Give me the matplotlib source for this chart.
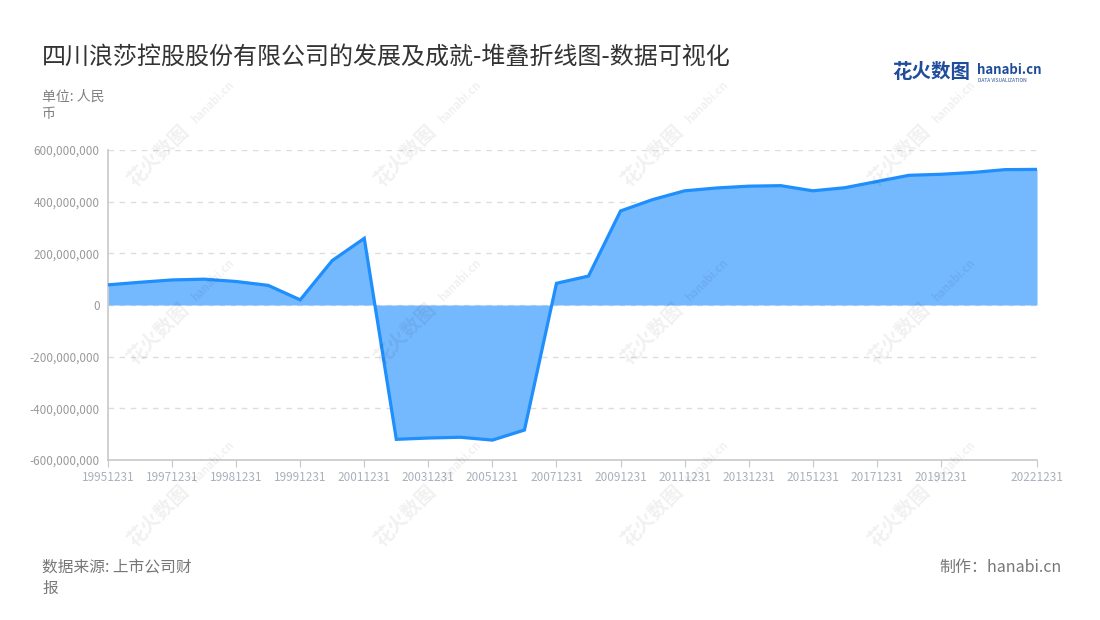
import matplotlib.pyplot as plt
import numpy as np

plt.rcParams['font.family'] = ['Noto Sans CJK SC', 'DejaVu Sans']

# -----------------------------
# Datos
# -----------------------------
fechas = ["19951231", "19961231", "19971231", "19980630", "19981231", "19990630",
          "19991231", "20001231", "20011231", "20021231", "20031231", "20041231",
          "20051231", "20061231", "20071231", "20081231", "20091231", "20101231",
          "20111231", "20121231", "20131231", "20141231", "20151231", "20161231",
          "20171231", "20181231", "20191231", "20201231", "20211231", "20221231"]
valores = [78e6, 88e6, 97e6, 100e6, 91e6, 76e6,
           20e6, 172e6, 258e6, -520e6, -515e6, -512e6,
           -523e6, -484e6, 84e6, 112e6, 364e6, 408e6,
           442e6, 453e6, 460e6, 462e6, 442e6, 454e6,
           478e6, 502e6, 506e6, 513e6, 524e6, 525e6]
etiquetas_idx = [0, 2, 4, 6, 8, 10, 12, 14, 16, 18, 20, 22, 24, 26, 29]
y_ticks = [-600e6, -400e6, -200e6, 0, 200e6, 400e6, 600e6]

titulo = "四川浪莎控股股份有限公司的发展及成就-堆叠折线图-数据可视化"

# -----------------------------
# Figura
# -----------------------------
fig = plt.figure(figsize=(11, 6.2), dpi=100)
ax = fig.add_axes([108/1100, 1 - 460/620, (1037-108)/1100, 310/620])

x = np.arange(len(fechas))
ax.fill_between(x, valores, 0, color='#74b8fd', linewidth=0, zorder=2)
ax.plot(x, valores, color='#1e8ffc', linewidth=2.3, zorder=3, solid_joinstyle='miter')

ax.set_xlim(0, len(fechas) - 1)
ax.set_ylim(-600e6, 600e6)
ax.set_yticks(y_ticks)
ax.set_yticklabels([f"{int(v):,}" for v in y_ticks])
ax.set_xticks(etiquetas_idx)
ax.set_xticklabels([fechas[i] for i in etiquetas_idx])

ax.grid(axis='y', color='#dddddd', linestyle=(0, (4, 4)), linewidth=1, zorder=1)
for s in ['top', 'right']:
    ax.spines[s].set_visible(False)
for s in ['left', 'bottom']:
    ax.spines[s].set_color('#c8c8c8')
    ax.spines[s].set_linewidth(1.2)
ax.tick_params(axis='y', length=0, labelsize=8.5, labelcolor='#9a9a9a', pad=6)
ax.tick_params(axis='x', length=5, color='#c8c8c8', labelsize=8.5,
               labelcolor='#a9b0bd', pad=3)

# Textos
fig.text(42/1100, 1 - 57/620, titulo, fontsize=17.3, color='#333333', va='center')
fig.text(42/1100, 1 - 97/620, "单位: 人民", fontsize=10, color='#808080', va='center')
fig.text(42/1100, 1 - 114/620, "币", fontsize=10, color='#808080', va='center')
fig.text(42/1100, 1 - 567/620, "数据来源: 上市公司财", fontsize=11.3, color='#777777', va='center')
fig.text(42/1100, 1 - 588/620, "报", fontsize=11.3, color='#777777', va='center')
fig.text(1062/1100, 1 - 567/620, "制作：hanabi.cn", fontsize=11.5, color='#777777',
         va='center', ha='right')

# Logo
fig.text(892/1100, 1 - 73/620, "花火数图", fontsize=14, color='#1f4d9c',
         fontweight='bold', va='center')
fig.text(977/1100, 1 - 70/620, "hanabi.cn", fontsize=9.5, color='#1f4d9c',
         fontweight='bold', va='center')
fig.text(978/1100, 1 - 80/620, "DATA VISUALIZATION", fontsize=3.5, color='#1f4d9c',
         va='center')

# Marcas de agua
for cx in [183, 430, 677, 924]:
    for cy in [132, 310, 492]:
        fig.text((cx - 24)/1100, 1 - (cy + 24)/620, "花火数图", fontsize=14, color='#000000',
                 alpha=0.06, rotation=45, ha='center', va='center', fontweight='bold')
        fig.text((cx + 30)/1100, 1 - (cy - 30)/620, "hanabi.cn", fontsize=8, color='#000000',
                 alpha=0.06, rotation=45, ha='center', va='center', fontweight='bold')

plt.savefig("out.png", dpi=100)
plt.close()
